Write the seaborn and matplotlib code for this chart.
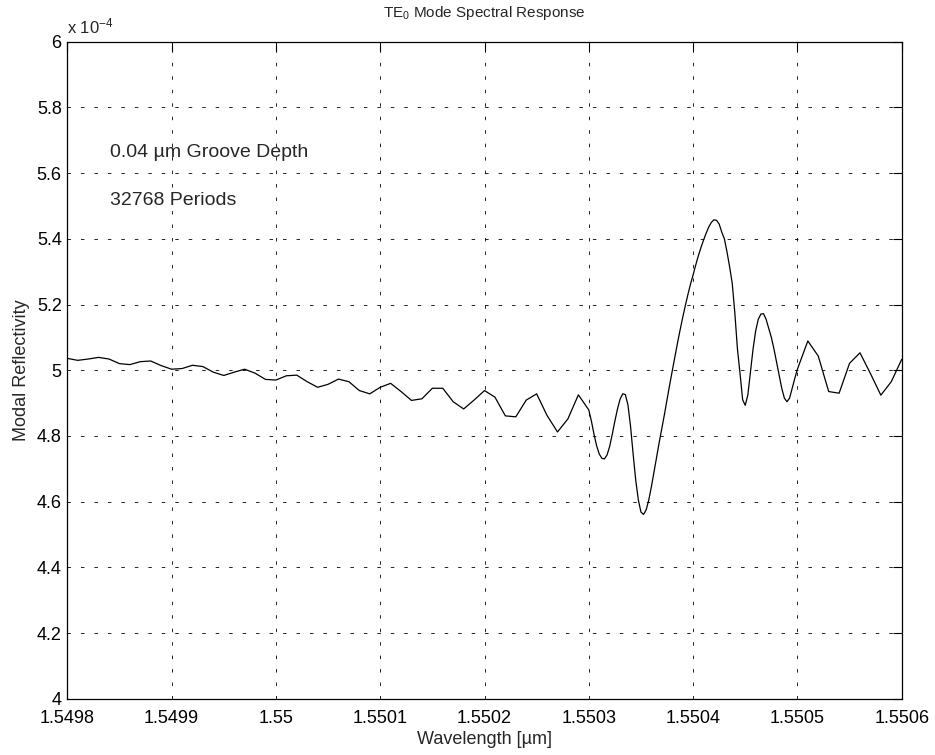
import numpy as np
import matplotlib
matplotlib.use("Agg")
import matplotlib.pyplot as plt
import seaborn as sns
from matplotlib.ticker import FuncFormatter, MultipleLocator

# Coarse sweep: 1.5498 .. 1.5503 um, 1e-5 um steps (reflectivity in units of 1e-4)
refl_left = [
    5.036, 5.030, 5.034, 5.039, 5.034, 5.020, 5.017, 5.026, 5.028, 5.014,
    5.003, 5.005, 5.015, 5.011, 4.994, 4.984, 4.994, 5.003, 4.991, 4.972,
    4.970, 4.983, 4.985, 4.965, 4.948, 4.957, 4.973, 4.965, 4.938, 4.928,
    4.948, 4.960, 4.935, 4.908, 4.913, 4.945, 4.945, 4.904, 4.882, 4.909,
    4.938, 4.918, 4.861, 4.858, 4.909, 4.928, 4.862, 4.812, 4.852, 4.925,
]

# Fine sweep across the resonance: 1.5503 .. 1.5505 um, 2.5e-6 um steps
refl_mid = [
    4.879, 4.845, 4.805, 4.770, 4.745, 4.732, 4.730, 4.742, 4.768, 4.805,
    4.845, 4.882, 4.912, 4.928, 4.926, 4.895, 4.830, 4.745, 4.665, 4.605,
    4.568, 4.561, 4.575, 4.605, 4.645, 4.690, 4.735, 4.780, 4.822, 4.865,
    4.910, 4.955, 4.998, 5.040, 5.082, 5.122, 5.160, 5.196, 5.230, 5.262,
    5.290, 5.320, 5.348, 5.373, 5.396, 5.417, 5.436, 5.450, 5.458, 5.456,
    5.445, 5.420, 5.400, 5.360, 5.315, 5.265, 5.175, 5.065, 4.990, 4.910,
    4.893, 4.925, 4.995, 5.065, 5.120, 5.155, 5.171, 5.172, 5.155, 5.128,
    5.100, 5.065, 5.025, 4.985, 4.945, 4.915, 4.904, 4.915, 4.945, 4.975,
    5.003,
]

# Coarse sweep again: 1.55051 .. 1.5506 um
refl_right = [5.089, 5.043, 4.935, 4.930, 5.021, 5.053, 4.990, 4.924, 4.965, 5.033]

wl_left = np.linspace(1.5498, 1.5498 + 49e-5, len(refl_left))
wl_mid = np.linspace(1.5503, 1.5505, len(refl_mid))
wl_right = np.linspace(1.55051, 1.5506, len(refl_right))

wavelength = np.concatenate([wl_left, wl_mid, wl_right])
reflectivity = np.concatenate([refl_left, refl_mid, refl_right])

x_ticks = [1.5498, 1.5499, 1.5500, 1.5501, 1.5502, 1.5503, 1.5504, 1.5505, 1.5506]

sns.set_style("white")
plt.rcParams["font.family"] = ["Liberation Sans", "DejaVu Sans"]
plt.rcParams["mathtext.fontset"] = "custom"
plt.rcParams["mathtext.rm"] = "Liberation Sans"
plt.rcParams["mathtext.it"] = "Liberation Sans"
plt.rcParams["lines.scale_dashes"] = False

W, H = 935, 755
fig = plt.figure(figsize=(W / 100, H / 100), dpi=100)
left, right, top, bottom = 67.3, 901.7, 41.7, 698.7
ax = fig.add_axes([left / W, 1 - bottom / H, (right - left) / W, (bottom - top) / H])

sns.lineplot(x=wavelength, y=reflectivity, ax=ax, color="black", linewidth=0.9,
             estimator=None, sort=False)

ax.set_xlim(1.5498, 1.5506)
ax.set_ylim(4, 6)
ax.set_xticks(x_ticks)
ax.yaxis.set_major_locator(MultipleLocator(0.2))
ax.xaxis.set_major_formatter(FuncFormatter(lambda v, p: f"{v:.4f}".rstrip("0").rstrip(".")))
ax.yaxis.set_major_formatter(FuncFormatter(lambda v, p: f"{v:.1f}".rstrip("0").rstrip(".")))

ax.grid(True, color="black", linewidth=0.6, linestyle=(0, (2.5, 7.2)))
ax.tick_params(direction="in", length=6.5, width=0.8, top=True, right=True,
               labelsize=13, colors="black")
ax.tick_params(axis="x", pad=8)
ax.tick_params(axis="y", pad=4)
for s in ax.spines.values():
    s.set_visible(True)
    s.set_color("black")
    s.set_linewidth(0.9)

ax.set_xlabel("")
ax.set_ylabel("")
fig.text((left + right) / 2 / W, 1 - 740 / H, "Wavelength [µm]", fontsize=13,
         ha="center", va="center")
fig.text(21.7 / W, 1 - (top + bottom) / 2 / H, "Modal Reflectivity", fontsize=13,
         rotation=90, ha="center", va="center")
fig.text((left + right) / 2 / W, 1 - 13 / H, r"TE$_0$ Mode Spectral Response",
         fontsize=11, ha="center", va="center")

fig.text(left / W, 1 - 33 / H, r"x 10$^{-4}$", fontsize=12, ha="left", va="baseline")

ax.text(1.549841, 5.664, "0.04 µm Groove Depth", fontsize=14, va="center", ha="left")
ax.text(1.549841, 5.518, "32768 Periods", fontsize=14, va="center", ha="left")

fig.savefig("out.png", dpi=100)
